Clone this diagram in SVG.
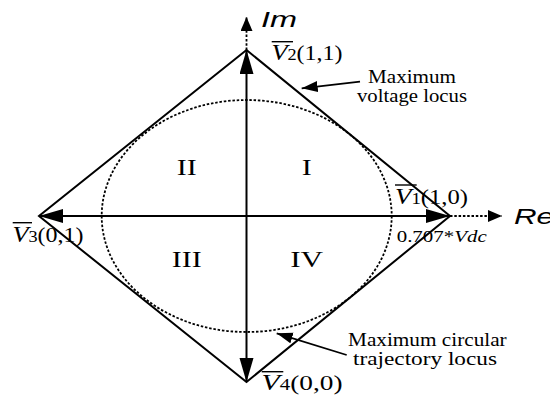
<svg xmlns="http://www.w3.org/2000/svg" width="550" height="396" viewBox="0 0 550 396">
<style>
.ln{stroke:#000;stroke-width:2;fill:none}
.dot{stroke:#000;stroke-width:1.8;fill:none;stroke-dasharray:2.5 1.8}
.thin{stroke:#000;stroke-width:1.8;fill:none}
.ol{stroke:#000;stroke-width:1.4}
text{font-family:"Liberation Serif","Times New Roman",serif;fill:#000}
.ax{font-family:"Liberation Sans",Arial,sans-serif;font-style:italic;font-size:22px}
.lab{font-size:21px}
.it{font-style:italic}
.rom{font-size:24px}
.note{font-size:18px}
</style>
<defs>
<marker id="big" markerUnits="userSpaceOnUse" markerWidth="26" markerHeight="16" refX="24" refY="7" orient="auto"><path d="M0,0 L24,7 L0,14 Z" fill="#000"/></marker>
<marker id="small" markerUnits="userSpaceOnUse" markerWidth="16" markerHeight="14" refX="14" refY="6" orient="auto"><path d="M0,0 L14,6 L0,12 Z" fill="#000"/></marker>
<marker id="pt" markerUnits="userSpaceOnUse" markerWidth="18" markerHeight="14" refX="16" refY="5.5" orient="auto"><path d="M0,0 L16,5.5 L0,11 Z" fill="#000"/></marker>
</defs>
<rect width="550" height="396" fill="#fff"/>
<g id="diamond"><path class="ln" d="M246.5,50 L450,216 L246.5,382 L39,216 Z"/></g>
<g id="circle"><ellipse class="dot" cx="246.7" cy="216" rx="145" ry="116"/></g>
<g id="connectors">
<line class="ln" x1="246.5" y1="216" x2="450" y2="216" marker-end="url(#big)"/>
<line class="ln" x1="246.5" y1="216" x2="39" y2="216" marker-end="url(#big)"/>
<line class="ln" x1="246.5" y1="216" x2="246.5" y2="50" marker-end="url(#big)"/>
<line class="ln" x1="246.5" y1="216" x2="246.5" y2="382" marker-end="url(#big)"/>
<line class="dot" x1="450" y1="216" x2="502" y2="216" marker-end="url(#small)"/>
<line class="dot" x1="246.5" y1="50" x2="246.5" y2="17" marker-end="url(#small)"/>
<line class="thin" x1="360" y1="81.7" x2="301.7" y2="88.3" marker-end="url(#pt)"/>
<line class="thin" x1="346.7" y1="355" x2="276.7" y2="333.3" marker-end="url(#pt)"/>
</g>
<g id="axis-labels">
<text class="ax" x="261" y="27" textLength="36" lengthAdjust="spacingAndGlyphs">Im</text>
<text class="ax" x="514" y="224" textLength="40" lengthAdjust="spacingAndGlyphs">Re</text>
</g>
<g id="v2">
<line class="ol" x1="271.7" y1="41.7" x2="293" y2="41.7"/>
<text class="lab" x="271.5" y="60" textLength="71" lengthAdjust="spacingAndGlyphs"><tspan class="it" font-size="23">V</tspan><tspan font-size="16">2</tspan>(1,1)</text>
</g>
<g id="v1">
<line class="ol" x1="395" y1="185" x2="416.7" y2="185"/>
<text class="lab" x="395" y="204" textLength="73" lengthAdjust="spacingAndGlyphs"><tspan class="it" font-size="23">V</tspan><tspan font-size="16">1</tspan>(1,0)</text>
</g>
<g id="v3">
<line class="ol" x1="12.7" y1="222.7" x2="32" y2="222.7"/>
<text class="lab" x="12.5" y="242" textLength="71" lengthAdjust="spacingAndGlyphs"><tspan class="it" font-size="23">V</tspan><tspan font-size="16">3</tspan>(0,1)</text>
</g>
<g id="v4">
<line class="ol" x1="261.7" y1="371.7" x2="283.3" y2="371.7"/>
<text class="lab" x="261.5" y="390" textLength="81" lengthAdjust="spacingAndGlyphs"><tspan class="it" font-size="23">V</tspan><tspan font-size="16">4</tspan>(0,0)</text>
</g>
<g id="quadrants">
<text class="rom" x="186.7" y="175" text-anchor="middle" textLength="20" lengthAdjust="spacingAndGlyphs">II</text>
<text class="rom" x="306.7" y="175" text-anchor="middle" textLength="10" lengthAdjust="spacingAndGlyphs">I</text>
<text class="rom" x="186.7" y="266.7" text-anchor="middle" textLength="30" lengthAdjust="spacingAndGlyphs">III</text>
<text class="rom" x="306.7" y="266.7" text-anchor="middle" textLength="33" lengthAdjust="spacingAndGlyphs">IV</text>
</g>
<g id="vdc">
<text x="396.7" y="241.7" font-size="16" textLength="90" lengthAdjust="spacingAndGlyphs">0.707*<tspan class="it">Vdc</tspan></text>
</g>
<g id="voltage-locus">
<text class="note" x="368" y="83.3" textLength="88" lengthAdjust="spacingAndGlyphs">Maximum</text>
<text class="note" x="357" y="101.7" textLength="110" lengthAdjust="spacingAndGlyphs">voltage locus</text>
</g>
<g id="circular-locus">
<text class="note" x="348" y="345.5" textLength="158.7" lengthAdjust="spacingAndGlyphs">Maximum circular</text>
<text class="note" x="353" y="365" textLength="144" lengthAdjust="spacingAndGlyphs">trajectory locus</text>
</g>
</svg>
